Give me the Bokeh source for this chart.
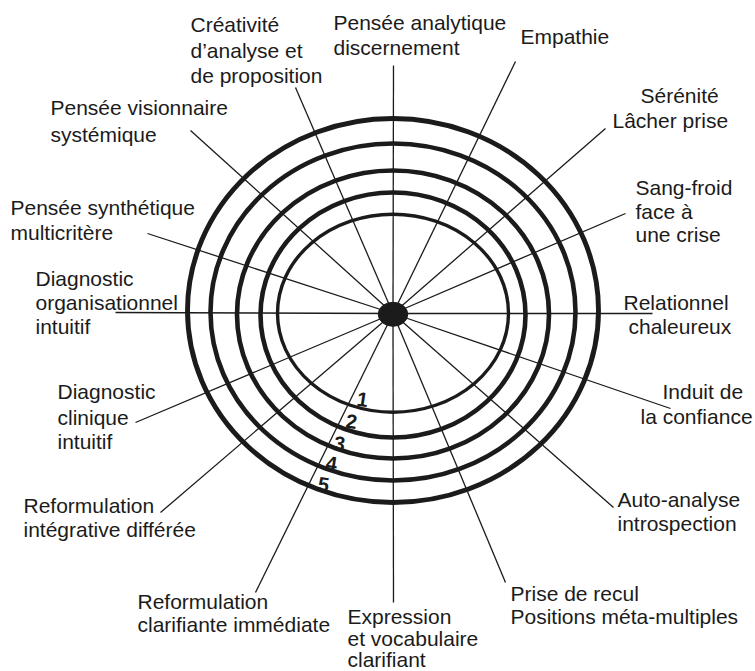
from bokeh.plotting import figure
from bokeh.models import Range1d, ColumnDataSource
from bokeh.core.properties import value
from bokeh.embed import file_html
from bokeh.resources import INLINE

# ---- data (diagram coordinates, y grows downward) ----
center_x = 392.5
center_y = 313.0

ring_rx = [115.5, 132.5, 156.0, 182.5, 205.5]
ring_ry = [99.0, 122.5, 144.0, 168.5, 192.0]
ring_cy = [312.7, 314.5, 314.0, 311.5, 310.0]
ring_lw = [3.4, 4.6, 4.6, 4.6, 4.9]
ring_numbers = ["1", "2", "3", "4", "5"]
ring_num_x = [362, 351, 339, 331, 323]
ring_num_y = [399, 421, 443, 463, 484]

spoke_names = [
    "Créativité", "Pensée analytique", "Empathie", "Sérénité", "Sang-froid",
    "Relationnel", "Induit", "Auto-analyse", "Prise de recul", "Expression",
    "Reformulation clarifiante", "Reformulation intégrative", "Diagnostic clinique",
    "Diagnostic organisationnel", "Pensée synthétique", "Pensée visionnaire",
]
spoke_end_x = [295, 393, 515, 605, 625, 652, 670, 613, 505, 393, 255, 160, 135, 115, 147, 190]
spoke_end_y = [87, 65, 61, 128, 213, 313, 408, 507, 582, 602, 592, 512, 422, 312, 233, 130]

# label lines: text, left x, baseline y
label_lines = [
    "Créativité", "d\u2019analyse et", "de proposition",
    "Pensée analytique", "discernement",
    "Empathie",
    "Sérénité", "Lâcher prise",
    "Sang-froid", "face à", "une crise",
    "Relationnel", "chaleureux",
    "Induit de", "la confiance",
    "Auto-analyse", "introspection",
    "Prise de recul", "Positions méta-multiples",
    "Expression", "et vocabulaire", "clarifiant",
    "Reformulation", "clarifiante immédiate",
    "Reformulation", "intégrative différée",
    "Diagnostic", "clinique", "intuitif",
    "Diagnostic", "organisationnel", "intuitif",
    "Pensée synthétique", "multicritère",
    "Pensée visionnaire", "systémique",
]
label_x = [
    190, 190, 190,
    333, 333,
    520,
    640, 612,
    635, 635, 635,
    623, 628,
    662, 640,
    617, 617,
    510, 510,
    347, 347, 347,
    137, 137,
    23, 23,
    57, 57, 57,
    35, 35, 35,
    10, 10,
    50, 50,
]
label_baseline = [
    31.5, 57.5, 83,
    30, 55,
    43.5,
    103, 128,
    195, 218.5, 241.5,
    310, 333.5,
    399, 423.5,
    507, 530.5,
    600.5, 624,
    623.5, 645.5, 667,
    608.5, 632,
    513, 537,
    399, 424.5, 448.5,
    286, 310, 333.5,
    215, 240,
    115, 141.5,
]

FONT_PX = 21
CAP_HALF = 0.358 * FONT_PX  # "middle" centres capitals on y
label_y = [b - CAP_HALF for b in label_baseline]

W, H = 755, 671
p = figure(width=W, height=H, output_backend="svg", toolbar_location=None,
           x_range=Range1d(0, W), y_range=Range1d(H, 0),
           x_axis_type=None, y_axis_type=None, min_border=0,
           background_fill_color="white", border_fill_color="white")
p.outline_line_color = None
p.grid.visible = False

ink = "#1b1b1b"

# spokes
p.segment(x0=[center_x] * len(spoke_end_x), y0=[center_y] * len(spoke_end_y),
          x1=spoke_end_x, y1=spoke_end_y, line_color=ink, line_width=1.3)

# rings
ring_src = ColumnDataSource(dict(
    x=[center_x] * len(ring_rx), y=ring_cy,
    w=[2 * r for r in ring_rx], h=[2 * r for r in ring_ry], lw=ring_lw))
p.ellipse(x="x", y="y", width="w", height="h", source=ring_src,
          fill_color=None, line_color=ink, line_width="lw")

# center dot
p.ellipse(x=[center_x], y=[313.8], width=[29.5], height=[24], fill_color=ink,
          line_color=ink)

# ring numbers
p.text(x=ring_num_x, y=ring_num_y, text=ring_numbers, text_font=value("Liberation Sans"),
       text_font_size="20px", text_font_style="bold", text_color=ink,
       text_align="center", text_baseline="middle", angle=-0.15)

# labels
p.text(x=label_x, y=label_y, text=label_lines, text_font=value("Liberation Sans"),
       text_font_size=f"{FONT_PX}px", text_color=ink, text_align="left",
       text_baseline="middle")

open("out.html", "w").write(file_html(p, INLINE))
